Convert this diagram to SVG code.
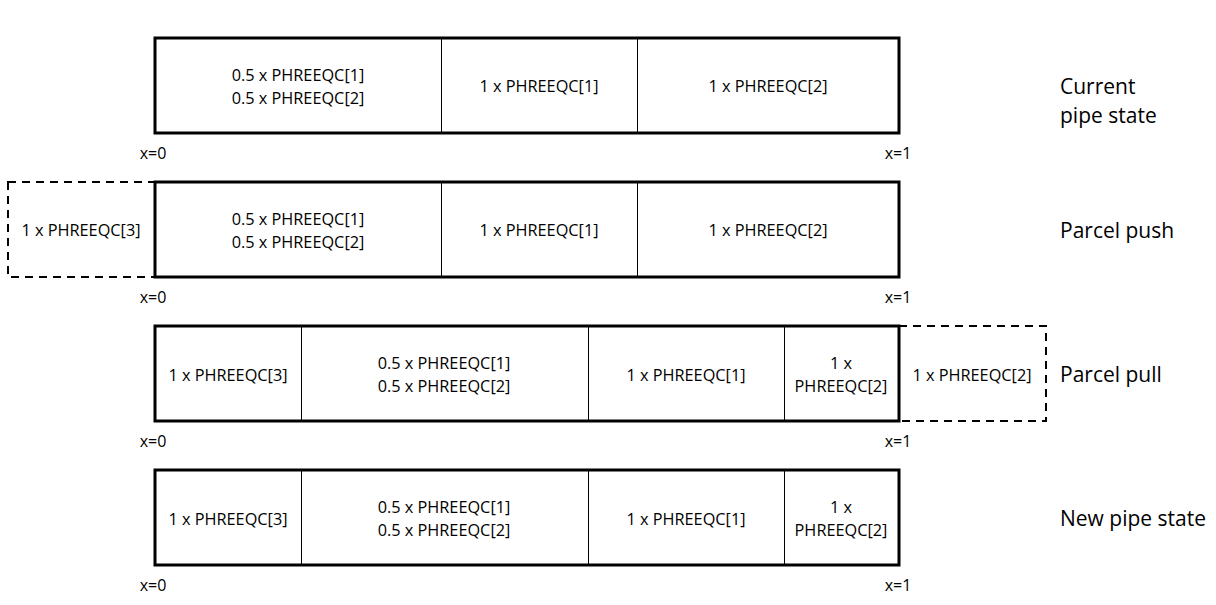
<svg xmlns="http://www.w3.org/2000/svg" width="1216" height="605" viewBox="0 0 1216 605">
<style>
.pipe{fill:none;stroke:#000;stroke-width:3}
.div{stroke:#000;stroke-width:1}
.dash{fill:none;stroke:#000;stroke-width:2;stroke-dasharray:8,6}
.t{font-family:"Open Sans","Liberation Sans",sans-serif;font-size:16.3px;fill:#000;text-anchor:middle;dominant-baseline:central}
.lab{font-family:"Open Sans","Liberation Sans",sans-serif;font-size:21px;fill:#000}
.x{font-family:"Open Sans","Liberation Sans",sans-serif;font-size:16px;fill:#000;text-anchor:middle}
</style>
<rect width="1216" height="605" fill="#fff"/>
<g id="row1">
<rect class="pipe" x="155" y="38" width="744" height="95"/>
<line class="div" x1="441.5" y1="38" x2="441.5" y2="133"/>
<line class="div" x1="637.5" y1="38" x2="637.5" y2="133"/>
<text class="t" x="298" y="75">0.5 x PHREEQC[1]</text>
<text class="t" x="298" y="98">0.5 x PHREEQC[2]</text>
<text class="t" x="539" y="86">1 x PHREEQC[1]</text>
<text class="t" x="768" y="86">1 x PHREEQC[2]</text>
<text class="x" x="153" y="159">x=0</text>
<text class="x" x="898" y="159">x=1</text>
<text class="lab" x="1060" y="94">Current</text>
<text class="lab" x="1060" y="123">pipe state</text>
</g>
<g id="row2">
<rect class="dash" x="8" y="182" width="147" height="95"/>
<rect class="pipe" x="155" y="182" width="744" height="95"/>
<line class="div" x1="441.5" y1="182" x2="441.5" y2="277"/>
<line class="div" x1="637.5" y1="182" x2="637.5" y2="277"/>
<text class="t" x="81" y="230">1 x PHREEQC[3]</text>
<text class="t" x="298" y="219">0.5 x PHREEQC[1]</text>
<text class="t" x="298" y="242">0.5 x PHREEQC[2]</text>
<text class="t" x="539" y="230">1 x PHREEQC[1]</text>
<text class="t" x="768" y="230">1 x PHREEQC[2]</text>
<text class="x" x="153" y="303">x=0</text>
<text class="x" x="898" y="303">x=1</text>
<text class="lab" x="1060" y="238">Parcel push</text>
</g>
<g id="row3">
<rect class="dash" x="899" y="326" width="147" height="95"/>
<rect class="pipe" x="155" y="326" width="744" height="95"/>
<line class="div" x1="301.5" y1="326" x2="301.5" y2="421"/>
<line class="div" x1="588.5" y1="326" x2="588.5" y2="421"/>
<line class="div" x1="784.5" y1="326" x2="784.5" y2="421"/>
<text class="t" x="228" y="375">1 x PHREEQC[3]</text>
<text class="t" x="444" y="363">0.5 x PHREEQC[1]</text>
<text class="t" x="444" y="386">0.5 x PHREEQC[2]</text>
<text class="t" x="686" y="375">1 x PHREEQC[1]</text>
<text class="t" x="841" y="363">1 x</text>
<text class="t" x="841" y="386">PHREEQC[2]</text>
<text class="t" x="972" y="375">1 x PHREEQC[2]</text>
<text class="x" x="153" y="447">x=0</text>
<text class="x" x="898" y="447">x=1</text>
<text class="lab" x="1060" y="382">Parcel pull</text>
</g>
<g id="row4">
<rect class="pipe" x="155" y="470" width="744" height="95"/>
<line class="div" x1="301.5" y1="470" x2="301.5" y2="565"/>
<line class="div" x1="588.5" y1="470" x2="588.5" y2="565"/>
<line class="div" x1="784.5" y1="470" x2="784.5" y2="565"/>
<text class="t" x="228" y="519">1 x PHREEQC[3]</text>
<text class="t" x="444" y="507">0.5 x PHREEQC[1]</text>
<text class="t" x="444" y="530">0.5 x PHREEQC[2]</text>
<text class="t" x="686" y="519">1 x PHREEQC[1]</text>
<text class="t" x="841" y="507">1 x</text>
<text class="t" x="841" y="530">PHREEQC[2]</text>
<text class="x" x="153" y="591">x=0</text>
<text class="x" x="898" y="591">x=1</text>
<text class="lab" x="1060" y="526">New pipe state</text>
</g>
<g id="connectors"/>
</svg>
